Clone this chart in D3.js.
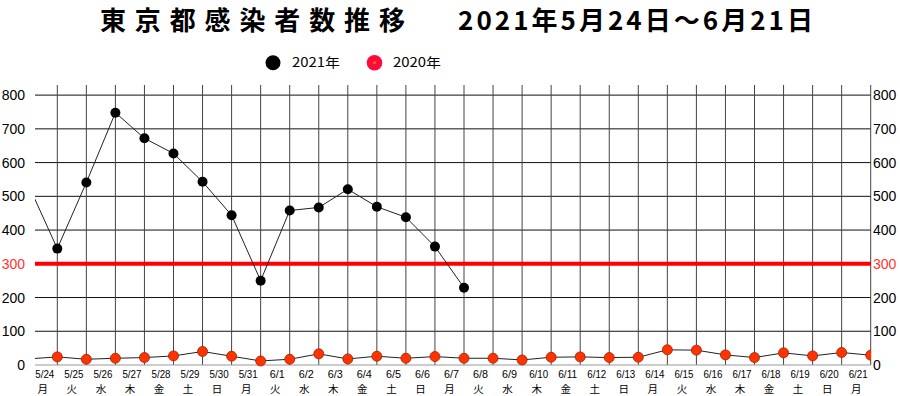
<!DOCTYPE html>
<html><head><meta charset="utf-8">
<script src="https://cdn.jsdelivr.net/npm/d3@7"></script>
<style>html,body{margin:0;padding:0;background:#fff;}svg{display:block;}</style>
</head><body>
<svg id="c" width="900" height="396"></svg>
<script>
const titleMain = "東京都感染者数推移";
const titleRange = "2021年5月24日～6月21日";
const dates = ["5/23","5/24","5/25","5/26","5/27","5/28","5/29","5/30","5/31","6/1","6/2","6/3","6/4","6/5","6/6","6/7","6/8","6/9","6/10","6/11","6/12","6/13","6/14","6/15","6/16","6/17","6/18","6/19","6/20","6/21"];
const weekdays = ["日","月","火","水","木","金","土","日","月","火","水","木","金","土","日","月","火","水","木","金","土","日","月","火","水","木","金","土","日","月"];
const cases2021 = [535,345,541,748,672,627,543,444,250,458,467,521,469,438,351,229,null,null,null,null,null,null,null,null,null,null,null,null,null,null];
const cases2020 = [18,24,17,20,22,27,40,26,12,17,33,18,26,20,25,20,20,15,23,24,22,23,45,44,30,22,36,27,37,29];
const yTicks = [0,100,200,300,400,500,600,700,800];
const threshold = 300;
const seriesNames = ["2021年","2020年"];

const svg = d3.select("#c");
const plotL = 35, plotR = 871, plotB = 365, plotT = 85;
const x = d3.scalePoint().domain(dates).range([28.25, 870.7]);
const y = d3.scaleLinear().domain([0, 830]).range([plotB, plotT]);

svg.append("defs").append("clipPath").attr("id","clip")
  .append("rect").attr("x",plotL).attr("y",0).attr("width",plotR-plotL).attr("height",plotB+10);

// title
svg.append("text").attr("x",100).attr("y",30).attr("font-family","'Noto Sans CJK JP'")
  .attr("font-weight","bold").attr("font-size",26).attr("textLength",305).attr("lengthAdjust","spacing")
  .text(titleMain);
svg.append("text").attr("x",458).attr("y",30).attr("font-family","'Noto Sans CJK JP'")
  .attr("font-weight","bold").attr("font-size",26).attr("textLength",355).attr("lengthAdjust","spacing")
  .text(titleRange);

// legend
const leg = svg.append("g");
leg.append("circle").attr("cx",273).attr("cy",62.7).attr("r",7.5).attr("fill","#000");
leg.append("text").attr("x",292).attr("y",67).attr("font-family","'Noto Sans CJK JP'").attr("font-size",13)
  .attr("textLength",48).attr("lengthAdjust","spacingAndGlyphs").text(seriesNames[0]);
leg.append("circle").attr("cx",374.5).attr("cy",62.7).attr("r",7.8).attr("fill","#ff0a3a");
leg.append("circle").attr("cx",374.5).attr("cy",62.7).attr("r",1.6).attr("fill","#ff5a10");
leg.append("text").attr("x",393).attr("y",67).attr("font-family","'Noto Sans CJK JP'").attr("font-size",13)
  .attr("textLength",48).attr("lengthAdjust","spacingAndGlyphs").text(seriesNames[1]);

// horizontal grid
const grid = svg.append("g");
grid.selectAll("line.h").data(yTicks.filter(d => d > 0)).join("line")
  .attr("x1",plotL).attr("x2",plotR).attr("y1",d=>y(d)).attr("y2",d=>y(d))
  .attr("stroke","#111").attr("stroke-width",1);
// vertical grid
grid.selectAll("line.v").data(dates.slice(1)).join("line")
  .attr("x1",d=>x(d)).attr("x2",d=>x(d)).attr("y1",plotT).attr("y2",plotB)
  .attr("stroke","#444").attr("stroke-width",1);
// baseline
grid.append("line").attr("x1",plotL).attr("x2",plotR).attr("y1",y(0)).attr("y2",y(0))
  .attr("stroke","#999").attr("stroke-width",1);

// threshold line
svg.append("line").attr("x1",plotL).attr("x2",plotR).attr("y1",y(threshold)).attr("y2",y(threshold))
  .attr("stroke","#ff0000").attr("stroke-width",4);

// y axis labels
const leftAx = svg.append("g").attr("transform",`translate(25,0)`)
  .call(d3.axisLeft(y).tickValues(yTicks).tickSize(0).tickPadding(0));
const rightAx = svg.append("g").attr("transform",`translate(873,0)`)
  .call(d3.axisRight(y).tickValues(yTicks).tickSize(0).tickPadding(0));
[leftAx,rightAx].forEach(a => {
  a.select(".domain").remove();
  a.selectAll("text").attr("font-family","'Liberation Sans', Arial, sans-serif").attr("font-size",14)
    .attr("fill", d => d === threshold ? "#ff3333" : "#000");
});

// x labels
const xl = svg.append("g");
xl.selectAll("text.d").data(dates.slice(1)).join("text").attr("class","d")
  .attr("x",d=>x(d)-12.5).attr("y",378).attr("text-anchor","middle")
  .attr("font-family","'Liberation Sans', Arial, sans-serif").attr("font-size",10.5)
  .attr("textLength",d=>d.length>3?19:15).attr("lengthAdjust","spacingAndGlyphs")
  .text(d=>d);
xl.selectAll("text.w").data(dates.slice(1)).join("text").attr("class","w")
  .attr("x",d=>x(d)-14.5).attr("y",392.5).attr("text-anchor","middle")
  .attr("font-family","'Noto Sans CJK JP'").attr("font-size",10.5)
  .text((d,i)=>weekdays[i+1]);

// lines
const plot = svg.append("g").attr("clip-path","url(#clip)");
const line = d3.line().defined(d=>d.v!=null).x(d=>x(d.k)).y(d=>y(d.v));
const d2021 = dates.map((k,i)=>({k, v:cases2021[i]}));
const d2020 = dates.map((k,i)=>({k, v:cases2020[i]}));
plot.append("path").datum(d2020).attr("d",line).attr("fill","none").attr("stroke","#222").attr("stroke-width",1);
plot.append("path").datum(d2021).attr("d",line).attr("fill","none").attr("stroke","#222").attr("stroke-width",1);
plot.selectAll("circle.a").data(d2020.slice(1)).join("circle")
  .attr("cx",d=>x(d.k)).attr("cy",d=>y(d.v)).attr("r",5)
  .attr("fill","#ff3300").attr("stroke","#a02000").attr("stroke-width",0.8);
plot.selectAll("circle.b").data(d2021.slice(1).filter(d=>d.v!=null)).join("circle")
  .attr("cx",d=>x(d.k)).attr("cy",d=>y(d.v)).attr("r",5).attr("fill","#000");
</script>
</body></html>
